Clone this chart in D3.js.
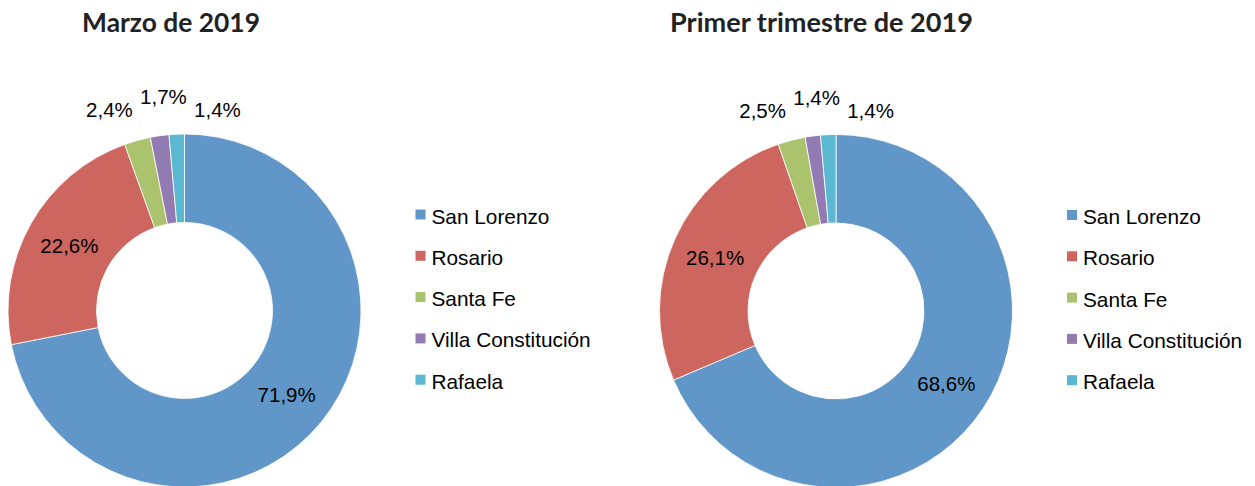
<!DOCTYPE html>
<html>
<head>
  <meta charset="UTF-8">
  <style>
    body { margin: 0; background: #fff; }
    text { font-family: "Liberation Sans", Arial, sans-serif; fill: #000; }
    .title { font-family: Lato, "Open Sans", sans-serif; font-weight: 700; fill: #222; }
  </style>
</head>
<body>
<script type='text/javascript' src='https://d3js.org/d3.v7.min.js'></script>
<script>
var width = 1255, height = 486;

// data
var categories = ['San Lorenzo', 'Rosario', 'Santa Fe', 'Villa Constitución', 'Rafaela'];
var marzo = [71.9, 22.6, 2.4, 1.7, 1.4];
var trimestre = [68.6, 26.1, 2.5, 1.4, 1.4];
var titles = ['Marzo de 2019', 'Primer trimestre de 2019'];
var colors = ['#6096c8', '#cc665e', '#aac36c', '#927bb3', '#5ab8d0'];

var svg = d3.select('body').append('svg').attr('width', width).attr('height', height);

var color = d3.scaleOrdinal().domain(categories).range(colors);
var fmt = function(v) { return d3.format('.1f')(v).replace('.', ',') + '%'; };

var rOut = 176.5, rIn = 88;
var arc = d3.arc().innerRadius(rIn).outerRadius(rOut);
var pie = d3.pie().sort(null).value(function(d) { return d.value; });

function drawDonut(values, cx, cy, title, titleX, titleW) {
  var g = svg.append('g').attr('transform', 'translate(' + cx + ',' + cy + ')');
  var data = categories.map(function(c, i) { return {name: c, value: values[i]}; });
  var arcs = pie(data);

  g.selectAll('path')
    .data(arcs)
    .join('path')
    .attr('d', arc)
    .attr('fill', function(d) { return color(d.data.name); })
    .attr('stroke', '#fff')
    .attr('stroke-width', 0.8);

  // big slices: label at centroid
  var big = arcs.filter(function(d) { return d.data.value >= 5; });
  g.selectAll('text.in')
    .data(big)
    .join('text')
    .attr('class', 'in')
    .attr('x', function(d) { return arc.centroid(d)[0]; })
    .attr('y', function(d) { return arc.centroid(d)[1]; })
    .attr('dy', '0.36em')
    .attr('text-anchor', 'middle')
    .style('font-size', '20.5px')
    .text(function(d) { return fmt(d.data.value); });

  // small slices: labels outside, spread apart so they don't overlap
  var small = arcs.filter(function(d) { return d.data.value < 5; });
  var xs = small.map(function(d) {
    var a = (d.startAngle + d.endAngle) / 2;
    return (rOut + 30) * Math.sin(a);
  });
  var gap = 54;
  var mean = d3.mean(xs) + 10;
  var n = small.length;
  small.forEach(function(d, j) {
    d.lx = mean + (j - (n - 1) / 2) * gap;
    d.ly = -(rOut + 17) - ((j > 0 && j < n - 1) ? 13 : 0);
  });
  g.selectAll('text.out')
    .data(small)
    .join('text')
    .attr('class', 'out')
    .attr('x', function(d) { return d.lx; })
    .attr('y', function(d) { return d.ly; })
    .attr('text-anchor', 'middle')
    .style('font-size', '20.5px')
    .text(function(d) { return fmt(d.data.value); });

  // legend
  var lg = svg.append('g').attr('transform', 'translate(' + (cx + 231) + ',' + (cy - 87) + ')');
  var row = lg.selectAll('g')
    .data(categories)
    .join('g')
    .attr('transform', function(d, i) { return 'translate(0,' + (i * 41.3) + ')'; });
  row.append('rect')
    .attr('x', 0).attr('y', -14).attr('width', 10).attr('height', 10)
    .attr('fill', function(d) { return color(d); });
  row.append('text')
    .attr('x', 16).attr('y', 0)
    .style('font-size', '20.8px')
    .text(function(d) { return d; });

  // title
  var t = svg.append('text')
    .attr('class', 'title')
    .attr('x', titleX).attr('y', 31.5)
    .attr('text-anchor', 'middle')
    .style('font-size', '26px')
    .text(title);
  var w = t.node().getComputedTextLength();
  t.style('font-size', (26 * titleW / w) + 'px');
}

drawDonut(marzo, 184.5, 310.5, titles[0], 171, 178);
drawDonut(trimestre, 836, 311, titles[1], 821.5, 303);

console.log('ready..');
</script>
</body>
</html>
